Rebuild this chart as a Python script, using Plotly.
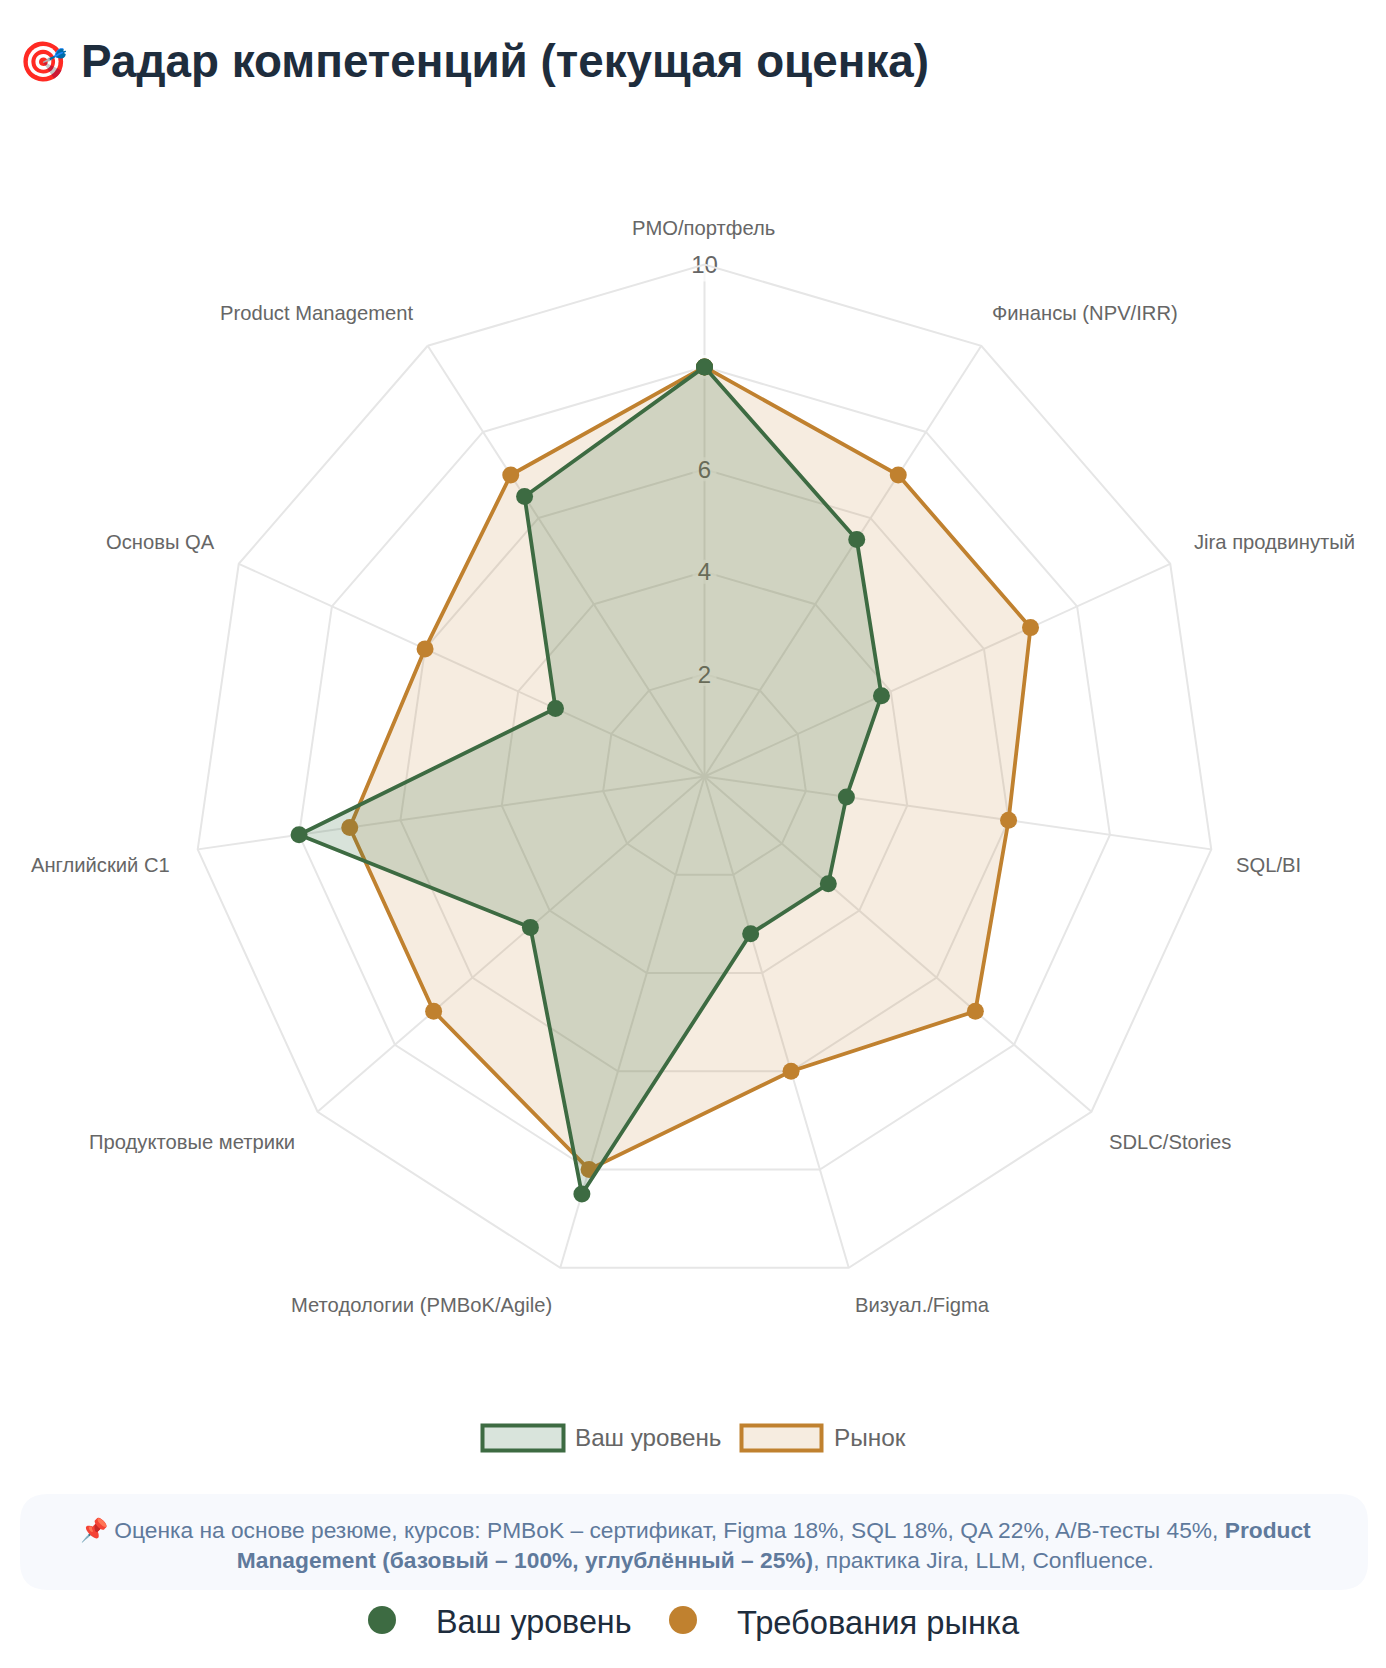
import plotly.graph_objects as go

# ---------- data ----------
categories = ["PMO/портфель", "Финансы (NPV/IRR)", "Jira продвинутый", "SQL/BI", "SDLC/Stories",
              "Визуал./Figma", "Методологии (PMBoK/Agile)", "Продуктовые метрики",
              "Английский C1", "Основы QA", "Product Management"]
your_level = [8, 5.5, 3.8, 2.8, 3.2, 3.2, 8.5, 4.5, 8, 3.2, 6.5]
market_level = [8, 7, 7, 6, 7, 6, 8, 7, 7, 6, 7]
radial_ticks = [2, 4, 6, 8, 10]
radial_tick_labels = ["2", "4", "6", "", "10"]   # the 8 sits hidden under the data point

title_icon = "🎯"
title_text = "<b>Радар компетенций (текущая оценка)</b>"
legend_you = "Ваш уровень"
legend_market = "Рынок"
legend2_market = "Требования рынка"
note_text = ("📌 Оценка на основе резюме, курсов: PMBoK – сертификат, Figma 18%, SQL 18%, QA 22%, "
             "A/B-тесты 45%, <b>Product<br>Management (базовый – 100%, углублённый – 25%)</b>, "
             "практика Jira, LLM, Confluence.")

# ---------- layout constants ----------
W, H = 1386, 1668
CX, CY, R = 704.5, 776.5, 512
GREEN, ORANGE = "#3d6b42", "#c0812f"
GREEN_FILL, ORANGE_FILL = "rgba(62,115,72,0.2)", "rgba(192,129,47,0.15)"
GRID = "#e6e6e6"
FONT = "Liberation Sans"
TICK_TEXT_NUDGE = 0.05  # centres the digit glyphs on their grid ring
label_centres = [(703, 228), (1085, 313), (1274, 542), (1268, 865), (1170, 1142), (922, 1305),
                 (421, 1305), (191.5, 1142), (100.5, 865), (160.6, 542), (316, 313)]


def px(x):
    return x / W


def py(y):
    return 1 - y / H


def closed(seq):
    return list(seq) + [seq[0]]


def text(x, y, s, size, color, anchor="center", **kw):
    return dict(x=px(x), y=py(y), xref="paper", yref="paper", text=s, showarrow=False,
                xanchor=anchor, yanchor="middle", font=dict(family=FONT, size=size, color=color), **kw)


def rect(x0, y0, x1, y1, fill, line):
    return dict(type="rect", xref="paper", yref="paper", x0=px(x0), x1=px(x1), y0=py(y0), y1=py(y1),
                fillcolor=fill, line=dict(color=line, width=4))


def circle(x, y, r, fill):
    return dict(type="circle", xref="paper", yref="paper", x0=px(x - r), x1=px(x + r),
                y0=py(y + r), y1=py(y - r), fillcolor=fill, line=dict(width=0))


def rounded(x0, y0, x1, y1, r, fill):
    p = (f"M {px(x0 + r)} {py(y0)} L {px(x1 - r)} {py(y0)} Q {px(x1)} {py(y0)} {px(x1)} {py(y0 + r)} "
         f"L {px(x1)} {py(y1 - r)} Q {px(x1)} {py(y1)} {px(x1 - r)} {py(y1)} "
         f"L {px(x0 + r)} {py(y1)} Q {px(x0)} {py(y1)} {px(x0)} {py(y1 - r)} "
         f"L {px(x0)} {py(y0 + r)} Q {px(x0)} {py(y0)} {px(x0 + r)} {py(y0)} Z")
    return dict(type="path", xref="paper", yref="paper", path=p, fillcolor=fill, line=dict(width=0))


fig = go.Figure()

# tick backdrops and tick labels, drawn beneath the datasets
fig.add_trace(go.Scatterpolar(
    r=radial_ticks, theta=[categories[0]] * len(radial_ticks), mode="markers",
    marker=dict(symbol="square", size=[24, 24, 24, 24, 34], color="rgba(255,255,255,0.96)", line=dict(width=0)),
    cliponaxis=False, showlegend=False, hoverinfo="skip"))
fig.add_trace(go.Scatterpolar(
    r=[v - TICK_TEXT_NUDGE for v in radial_ticks], theta=[categories[0]] * len(radial_ticks), mode="text",
    text=radial_tick_labels, textposition="middle center",
    textfont=dict(family=FONT, size=24, color="#666666"),
    cliponaxis=False, showlegend=False, hoverinfo="skip"))

for name, vals, col, fill in [("Рынок", market_level, ORANGE, ORANGE_FILL),
                              ("Ваш уровень", your_level, GREEN, GREEN_FILL)]:
    fig.add_trace(go.Scatterpolar(
        r=closed(vals), theta=closed(categories), name=name, mode="lines+markers",
        fill="toself", fillcolor=fill, line=dict(color=col, width=3.8),
        marker=dict(color=col, size=17, line=dict(width=0)), cliponaxis=False, showlegend=False))

annotations = [text(x, y, c, 20.2, "#666666") for c, (x, y) in zip(categories, label_centres)]
annotations += [
    text(17, 62, title_icon, 39, "#1e2d3d", anchor="left"),
    text(79, 62, title_text, 45.8, "#1e2d3d", anchor="left"),
    text(573, 1437, legend_you, 24.2, "#666666", anchor="left"),
    text(832, 1437, legend_market, 24.4, "#666666", anchor="left"),
    text(695.5, 1544, note_text, 22.75, "#5f7a9c"),
    text(434, 1622, legend_you, 32.3, "#1e2d3d", anchor="left"),
    text(735, 1622, legend2_market, 32.7, "#1e2d3d", anchor="left"),
]

shapes = [
    rect(482.5, 1425.5, 563.5, 1450.5, "#d9e4dc", GREEN),
    rect(741.5, 1425.5, 821.5, 1450.5, "#f6ece0", ORANGE),
    rounded(20, 1494, 1368, 1590, 28, "#f7f9fd"),
    circle(382, 1620, 14, GREEN),
    circle(683, 1620, 14, ORANGE),
]

fig.update_layout(
    width=W, height=H, autosize=False, margin=dict(l=0, r=0, t=0, b=0),
    paper_bgcolor="white", showlegend=False, annotations=annotations, shapes=shapes,
    polar=dict(
        domain=dict(x=[px(CX - R), px(CX + R)], y=[py(CY + R), py(CY - R)]),
        bgcolor="rgba(0,0,0,0)", gridshape="linear",
        radialaxis=dict(range=[0, 10], dtick=2, showticklabels=False, ticks="", showline=False,
                        gridcolor=GRID, gridwidth=2, angle=90),
        angularaxis=dict(direction="clockwise", rotation=90, type="category", categoryorder="array",
                         categoryarray=categories, showticklabels=False, ticks="", showline=True,
                         linecolor=GRID, linewidth=2, gridcolor=GRID, gridwidth=2),
    ),
)

fig.write_html("out.html", config={"displayModeBar": False},
               post_script="document.body.style.margin='0';document.body.style.overflow='hidden';")
